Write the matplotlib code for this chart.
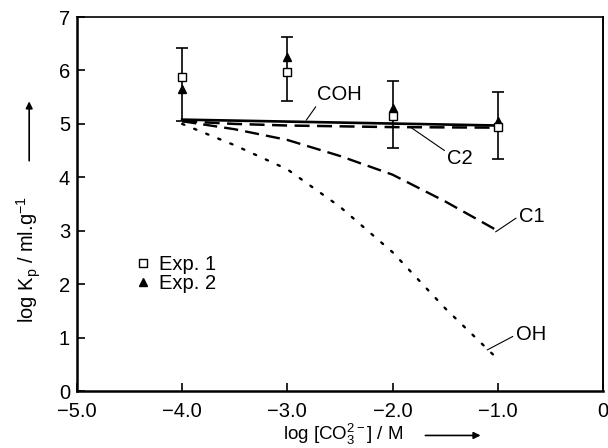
import matplotlib.pyplot as plt

plt.rcParams["font.family"] = ["Liberation Sans", "DejaVu Sans"]
plt.rcParams["mathtext.fontset"] = "custom"
plt.rcParams["mathtext.rm"] = "Liberation Sans"
plt.rcParams["mathtext.it"] = "Liberation Sans"
plt.rcParams["mathtext.default"] = "regular"

# experimental points
exp_x = [-4.0, -3.0, -2.0, -1.0]
exp1_y = [5.87, 5.97, 5.15, 4.95]
exp2_y = [5.65, 6.25, 5.30, 5.05]
err_lo = [5.05, 5.42, 4.55, 4.35]
err_hi = [6.42, 6.63, 5.80, 5.60]

# model curves
coh_x = [-4.0, -1.0]
coh_y = [5.08, 4.97]
c2_x = [-4.0, -3.5, -3.0, -2.0, -1.0]
c2_y = [5.05, 5.0, 4.97, 4.94, 4.93]
c1_x = [-4.0, -3.5, -3.0, -2.5, -2.0, -1.5, -1.0]
c1_y = [5.05, 4.9, 4.7, 4.4, 4.05, 3.55, 3.0]
oh_x = [-4.0, -3.5, -3.0, -2.5, -2.0, -1.5, -1.0]
oh_y = [5.0, 4.6, 4.15, 3.45, 2.6, 1.55, 0.6]

fs = 14.5

fig = plt.figure(figsize=(6.08, 4.48), dpi=100)
ax = fig.add_axes([0.1266, 0.127, 0.865, 0.835])

ax.plot(oh_x, oh_y, color="black", linestyle=(0, (1, 4.5)), linewidth=1.7,
        dash_capstyle="round")
ax.plot(c1_x, c1_y, color="black", linestyle=(0, (6, 3)), linewidth=1.7)
ax.plot(c2_x, c2_y, color="black", linestyle=(0, (6, 3)), linewidth=1.8)
ax.plot(coh_x, coh_y, color="black", linewidth=1.9)

# error bars
mid = [(lo + hi) / 2 for lo, hi in zip(err_lo, err_hi)]
half = [(hi - lo) / 2 for lo, hi in zip(err_lo, err_hi)]
ax.errorbar(exp_x, mid, yerr=half, fmt="none", ecolor="black",
            elinewidth=1.2, capsize=4, capthick=1.2)

ax.plot(exp_x, exp2_y, linestyle="none", marker="^", color="black",
        markersize=6, label="Exp. 2")
ax.plot(exp_x, exp1_y, linestyle="none", marker="s", markerfacecolor="white",
        markeredgecolor="black", markersize=5.5, markeredgewidth=1,
        label="Exp. 1")

# curve labels with leader lines
ax.annotate("COH", xy=(-2.82, 5.07), xytext=(-2.72, 5.55),
            fontsize=fs, va="center", ha="left",
            arrowprops=dict(arrowstyle="-", color="black", lw=0.8,
                            shrinkA=0, shrinkB=0,
                            relpos=(0.05, 0.1)))
ax.annotate("C2", xy=(-1.83, 4.94), xytext=(-1.48, 4.36),
            fontsize=fs, va="center", ha="left",
            arrowprops=dict(arrowstyle="-", color="black", lw=0.8,
                            shrinkA=0, shrinkB=0, relpos=(0.0, 0.8)))
ax.annotate("C1", xy=(-1.02, 2.98), xytext=(-0.8, 3.27),
            fontsize=fs, va="center", ha="left",
            arrowprops=dict(arrowstyle="-", color="black", lw=0.8,
                            shrinkA=0, shrinkB=0, relpos=(0.0, 0.5)))
ax.annotate("OH", xy=(-1.10, 0.77), xytext=(-0.83, 1.05),
            fontsize=fs, va="center", ha="left",
            arrowprops=dict(arrowstyle="-", color="black", lw=0.8,
                            shrinkA=0, shrinkB=0, relpos=(0.0, 0.5)))

ax.set_xlim(-5.0, 0.0)
ax.set_ylim(0, 7)
ax.set_xticks([-5, -4, -3, -2, -1, 0])
ax.set_xticklabels(["\u22125.0", "\u22124.0", "\u22123.0", "\u22122.0", "\u22121.0", "0"])
ax.set_yticks(range(0, 8))
ax.tick_params(direction="in", length=6, width=1.2, labelsize=fs)
ax.tick_params(axis="x", pad=8)
ax.tick_params(axis="y", pad=5)
ax.spines["left"].set_linewidth(1.8)
ax.spines["bottom"].set_linewidth(1.8)
ax.spines["top"].set_linewidth(1.2)
ax.spines["right"].set_linewidth(1.4)

handles, labels = ax.get_legend_handles_labels()
ax.legend(handles[::-1], labels[::-1], loc="upper left",
          bbox_to_anchor=(0.095, 0.39), frameon=False, fontsize=fs,
          handlelength=0.6, handletextpad=0.5, labelspacing=0.0,
          borderpad=0)

# axis labels with arrows
fig.text(0.565, 0.003, "log [CO$_3^{2-}$] / M", fontsize=13.5,
         ha="center", va="bottom")
ax.annotate("", xy=(0.795, 0.028), xytext=(0.695, 0.028),
            xycoords="figure fraction", textcoords="figure fraction",
            arrowprops=dict(arrowstyle="-|>", color="black", lw=1.2,
                            mutation_scale=10))

fig.text(0.048, 0.42, "log K$_p$ / ml.g$^{-1}$", fontsize=fs,
         rotation=90, ha="center", va="center")
ax.annotate("", xy=(0.048, 0.78), xytext=(0.048, 0.635),
            xycoords="figure fraction", textcoords="figure fraction",
            arrowprops=dict(arrowstyle="-|>", color="black", lw=1.2,
                            mutation_scale=10))

fig.savefig("out.png", dpi=100)
